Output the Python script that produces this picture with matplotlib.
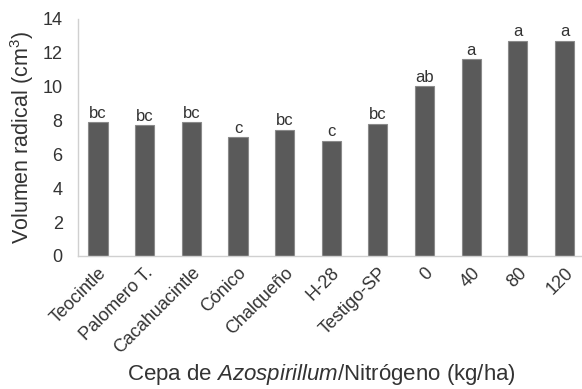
import matplotlib
matplotlib.use("Agg")
import matplotlib.pyplot as plt

# Datos
cepas = ['Teocintle', 'Palomero T.', 'Cacahuacintle', 'Cónico', 'Chalqueño',
         'H-28', 'Testigo-SP', '0', '40', '80', '120']
volumen = [7.9, 7.7, 7.9, 7.0, 7.45, 6.8, 7.8, 10.0, 11.6, 12.7, 12.7]
letras = ['bc', 'bc', 'bc', 'c', 'bc', 'c', 'bc', 'ab', 'a', 'a', 'a']

plt.rcParams['font.family'] = ['Liberation Sans', 'DejaVu Sans']
plt.rcParams['mathtext.fontset'] = 'custom'
plt.rcParams['mathtext.it'] = 'Liberation Sans:italic'
plt.rcParams['mathtext.rm'] = 'Liberation Sans'
gris_texto = '#333333'

fig = plt.figure(figsize=(5.82, 3.89), dpi=100)
ax = fig.add_axes([0.134, 0.342, 0.876, 0.610])

x = range(len(cepas))
ax.bar(x, volumen, width=0.41, color='#5a5a5a', edgecolor='#8a8a8a', linewidth=0.8)
for xi, v, l in zip(x, volumen, letras):
    ax.text(xi, v + 0.08, l, ha='center', va='bottom', fontsize=12, color=gris_texto)

ax.set_ylim(0, 14)
ax.set_xlim(-0.43, len(cepas) - 0.5)
ax.set_yticks(range(0, 15, 2))
ax.set_xticks(list(x))
ax.set_xticklabels(cepas, rotation=45, ha='right', rotation_mode='anchor',
                   color=gris_texto)
ax.tick_params(axis='both', length=0, colors=gris_texto, labelsize=13)
ax.tick_params(axis='x', labelsize=13, pad=6)
ax.tick_params(axis='y', pad=11)

for s in ['top', 'right']:
    ax.spines[s].set_visible(False)
for s in ['left', 'bottom']:
    ax.spines[s].set_color('#d0d0d0')
    ax.spines[s].set_linewidth(1)

ax.set_ylabel('Volumen radical (cm$^3$)', fontsize=15.5, color=gris_texto, va='center')
ax.yaxis.set_label_coords(-0.11, 0.5)
ax.set_xlabel('Cepa de $\\it{Azospirillum}$/Nitrógeno (kg/ha)', fontsize=16,
              color=gris_texto, va='center')
ax.xaxis.set_label_coords(0.477, -0.50)

plt.savefig('out.png', dpi=100)
plt.close()
